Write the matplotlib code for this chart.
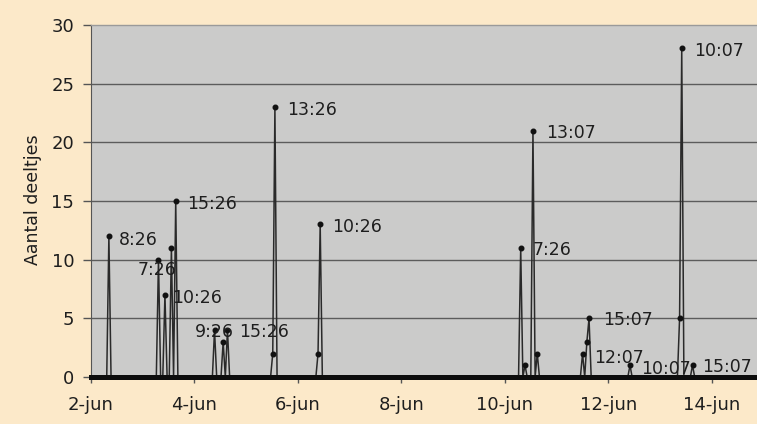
import matplotlib
matplotlib.use("Agg")
import matplotlib.pyplot as plt
import matplotlib.dates as mdates
from datetime import datetime, timedelta

# ---- data ----
event_times = ["2008-06-02 08:26", "2008-06-03 07:26", "2008-06-03 10:26", "2008-06-03 13:26",
               "2008-06-03 15:26", "2008-06-04 09:26", "2008-06-04 13:26", "2008-06-04 15:26",
               "2008-06-05 12:26", "2008-06-05 13:26", "2008-06-06 09:26", "2008-06-06 10:26",
               "2008-06-10 07:26", "2008-06-10 09:26", "2008-06-10 13:07", "2008-06-10 15:07",
               "2008-06-11 12:07", "2008-06-11 14:07", "2008-06-11 15:07", "2008-06-12 10:07",
               "2008-06-13 09:07", "2008-06-13 10:07", "2008-06-13 15:07"]
event_values = [12, 10, 7, 11, 15, 4, 3, 4, 2, 23, 2, 13, 11, 1, 21, 2, 2, 3, 5, 1, 5, 28, 1]

series_start = "2008-06-02 00:26"
series_end = "2008-06-14 23:07"

label_times = ["2008-06-02 08:26", "2008-06-03 07:26", "2008-06-03 10:26", "2008-06-03 15:26",
               "2008-06-04 09:26", "2008-06-04 15:26", "2008-06-05 13:26", "2008-06-06 10:26",
               "2008-06-10 07:26", "2008-06-10 13:07", "2008-06-11 12:07", "2008-06-11 15:07",
               "2008-06-12 10:07", "2008-06-13 10:07", "2008-06-13 15:07"]
label_texts = ["8:26", "7:26", "10:26", "15:26", "9:26", "15:26", "13:26", "10:26",
               "7:26", "13:07", "12:07", "15:07", "10:07", "10:07", "15:07"]
# label offsets in pixels (dx, dy) relative to the point
label_dx = [10, -21, 7, 11, -20, 12, 12, 12, 12, 13, 12, 14, 11, 12, 10]
label_dy = [-4, -10, -3, -3, -2, -2, -3, -3, -2, -2, -4, -2, -4, -3, -2]

x_tick_labels = ["2-jun", "4-jun", "6-jun", "8-jun", "10-jun", "12-jun", "14-jun"]
x_tick_dates = ["2008-06-02", "2008-06-04", "2008-06-06", "2008-06-08",
                "2008-06-10", "2008-06-12", "2008-06-14"]
y_ticks = [0, 5, 10, 15, 20, 25, 30]
y_label = "Aantal deeltjes"

# ---- build line series (returns to zero one reading before/after each event) ----
fmt = "%Y-%m-%d %H:%M"
ev_t = [datetime.strptime(s, fmt) for s in event_times]
pts = {t: v for t, v in zip(ev_t, event_values)}
hour = timedelta(hours=1)
for t in ev_t:
    for nb in (t - hour, t + hour):
        if nb not in pts:
            pts[nb] = 0
pts[datetime.strptime(series_start, fmt)] = 0
pts[datetime.strptime(series_end, fmt)] = 0
st = sorted(pts)
sv = [pts[t] for t in st]

outer_bg = "#fce9c9"
plot_bg = "#cbcbca"
txt = "#1e1e1e"

fig = plt.figure(figsize=(7.57, 4.24), dpi=100)
fig.patch.set_facecolor(outer_bg)
left_px, bottom_px, top_px = 90.7, 377, 25
ax = fig.add_axes([left_px / 757, 1 - bottom_px / 424, 1 - left_px / 757, (bottom_px - top_px) / 424])
ax.set_facecolor(plot_bg)

x0 = datetime(2008, 6, 2)
ax.set_xlim(mdates.date2num(x0), mdates.date2num(x0) + 12.876)
ax.set_ylim(0, 30)

# grid
for y in y_ticks[1:-1]:
    ax.axhline(y, color="#5c5c5c", lw=1.0, zorder=1)

ax.plot(st, sv, color="#2a2a2a", lw=1.1, zorder=3)
nz_t = [t for t, v in zip(st, sv) if v != 0]
nz_v = [v for v in sv if v != 0]
ax.plot(nz_t, nz_v, linestyle="none", marker="o", ms=3.3, color="#111111", zorder=4)
ax.axhline(0, color="#0d0d0d", lw=3.6, zorder=5, clip_on=False)

for lt, tx, dx, dy in zip(label_times, label_texts, label_dx, label_dy):
    t = datetime.strptime(lt, fmt)
    ax.annotate(tx, (mdates.date2num(t), pts[t]), xytext=(dx, dy), textcoords="offset pixels",
                ha="left", va="center", fontsize=12.5, color=txt, zorder=6)

ax.set_yticks(y_ticks)
ax.set_yticklabels([str(v) for v in y_ticks])
ax.set_xticks([mdates.date2num(datetime.strptime(d, "%Y-%m-%d")) for d in x_tick_dates])
ax.set_xticklabels(x_tick_labels)
ax.tick_params(axis="y", direction="out", length=5.8, width=1, color="#555555",
               labelsize=13, labelcolor=txt, pad=6)
ax.tick_params(axis="x", direction="out", length=4.5, width=1, color="#555555",
               labelsize=13, labelcolor=txt, pad=9)

for s in ("right", "bottom"):
    ax.spines[s].set_visible(False)
ax.spines["left"].set_color("#555555")
ax.spines["top"].set_color("#9a9a9a")
ax.spines["top"].set_linewidth(1.0)

fig.text(33 / 757, 1 - 200 / 424, y_label, rotation=90, ha="center", va="center",
         fontsize=12.5, color=txt)

fig.savefig("out.png", dpi=100, facecolor=outer_bg)
